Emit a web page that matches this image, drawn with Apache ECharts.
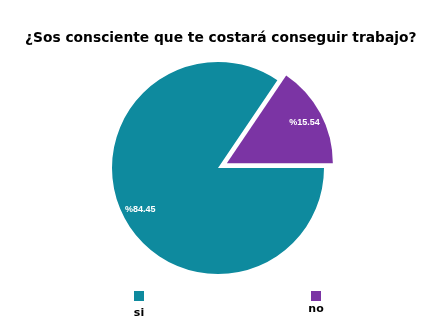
<!DOCTYPE html>
<html><head><meta charset="utf-8">
<script src="https://cdn.jsdelivr.net/npm/echarts@6/dist/echarts.min.js"></script>
<style>html,body{margin:0;padding:0;background:#fff}#c{width:421px;height:328px}</style>
</head><body><div id="c"></div>
<script>
const titleText = '¿Sos consciente que te costará conseguir trabajo?';
const categories = ['si', 'no'];
const values = [84.45, 15.54];
const colors = ['#0e8a9e', '#7b34a4'];

const chart = echarts.init(document.getElementById('c'), null, {renderer: 'canvas'});
const data = categories.map((c, i) => ({
  name: c, value: values[i], selected: c === 'no',
  itemStyle: {color: colors[i]}
}));
const labelData = categories.map((c, i) => ({
  name: c, value: values[i], selected: c === 'no',
  itemStyle: {color: 'rgba(0,0,0,0)'}
}));
function legendFor(i, left, gap) {
  return {
    data: [categories[i]], left: left, top: 285, itemWidth: 0, itemHeight: 10,
    icon: 'none', selectedMode: false,
    formatter: n => '{ic|}\n{t|' + n + '}',
    textStyle: {
      width: 24,
      rich: {
        ic: {width: 10, height: 10, backgroundColor: colors[i], align: 'center'},
        t: {fontFamily: 'DejaVu Sans', fontWeight: 'bold', fontSize: 11, color: '#000', align: 'center', lineHeight: gap}
      }
    }
  };
}
chart.setOption({
  animation: false,
  title: {
    text: titleText, left: 20, top: 26,
    textStyle: {fontFamily: 'DejaVu Sans', fontWeight: 'bold', fontSize: 13.8, color: '#000'}
  },
  legend: [legendFor(0, 117, 24), legendFor(1, 294, 16)],
  series: [
    {
      type: 'pie', center: [218, 168], radius: [0, 106], startAngle: 0, clockwise: true,
      selectedMode: 'single', selectedOffset: 10, silent: true,
      label: {show: false}, labelLine: {show: false},
      data: data
    },
    {
      type: 'pie', center: [218, 168], radius: [64, 106], startAngle: 0, clockwise: true,
      selectedMode: 'single', selectedOffset: 10, silent: true, legendHoverLink: false,
      label: {
        show: true, position: 'inside', color: '#fff', fontWeight: 'bold', fontSize: 9,
        fontFamily: 'Liberation Sans', formatter: p => '%' + p.value.toFixed(2)
      },
      labelLine: {show: false},
      data: labelData
    }
  ]
});
</script></body></html>
